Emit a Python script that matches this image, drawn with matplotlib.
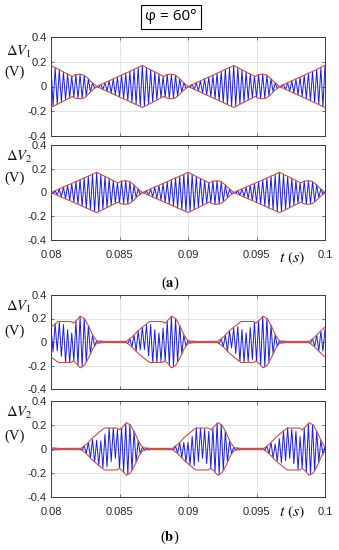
import numpy as np
import matplotlib
matplotlib.use("Agg")
from matplotlib import pyplot as plt

# --- data -------------------------------------------------------------
t_start, t_end = 0.08, 0.1
period = 0.00667          # envelope repeat period (s)
carrier_hz = 3300         # oscillation frequency of the blue trace

# (a) envelope of one period, measured from a zero of the envelope
env_a_phase = [0.0, 0.0017, 0.00333, 0.0042, 0.0049, 0.0051, 0.0054, 0.0057, 0.0060, 0.0062, 0.00667]
env_a_amp = [0.0, 0.085, 0.17, 0.12, 0.08, 0.095, 0.10, 0.095, 0.07, 0.045, 0.0]
zero_a_v1 = 0.08333
zero_a_v2 = 0.08

# (b) envelope of one pulse, measured from the pulse start
env_b_phase = [0.0, 0.0004, 0.0008, 0.0012, 0.0017, 0.0026, 0.0028, 0.0030, 0.0033, 0.0036, 0.0039, 0.0042, 0.0045, 0.0050, 0.00667]
env_b_amp = [0.005, 0.04, 0.09, 0.13, 0.175, 0.175, 0.16, 0.18, 0.22, 0.20, 0.14, 0.06, 0.01, 0.005, 0.005]
start_b_v1 = 0.0855
start_b_v2 = 0.0822
# relative swing of successive half-cycles in the plateau of each pulse
depth_b = [1.0, 0.6, 1.0, 0.45, 0.95, 0.7, 0.85]
plateau_end_b = 0.0028

y_ticks = [-0.4, -0.2, 0, 0.2, 0.4]
y_tick_labels = ["-0.4", "-0.2", "0", "0.2", "0.4"]
x_ticks = [0.08, 0.085, 0.09, 0.095, 0.1]
x_tick_labels = ["0.08", "0.085", "0.09", "0.095", "0.1"]

plt.rcParams["mathtext.fontset"] = "stix"
plt.rcParams["font.family"] = ["Liberation Sans", "DejaVu Sans"]

BLUE = "#1c1ce6"
RED = "#c0524a"
GRID = "#e3e3e3"
FRAME = "#3a3a3a"


def envelope(t, t0, phase, amp):
    ph = np.mod(t - t0, period)
    return np.interp(ph, phase, amp)


def zigzag(t0, phase, amp, depth=None):
    half = 0.5 / carrier_hz
    tk = np.arange(t_start, t_end + half, half)
    tk = tk[tk <= t_end + 1e-12]
    env = envelope(tk, t0, phase, amp)
    sign = np.where(np.arange(len(tk)) % 2 == 0, 1.0, -1.0)
    ratio = np.ones_like(tk)
    if depth is not None:
        ph = np.mod(tk - t0, period)
        idx = np.arange(len(tk)) % len(depth)
        inner = (ph > 0.0008) & (ph < plateau_end_b)
        ratio[inner] = np.array(depth)[idx[inner]]
    return tk, sign * env * ratio


def draw(ax, t0, phase, amp, depth=None, show_x=False):
    tk, yk = zigzag(t0, phase, amp, depth)
    ax.plot(tk, yk, color=BLUE, lw=0.7, zorder=3)
    tt = np.linspace(t_start, t_end, 4000)
    env = envelope(tt, t0, phase, amp)
    ax.plot(tt, env, color=RED, lw=0.8, zorder=4)
    ax.plot(tt, -env, color=RED, lw=0.8, zorder=4)

    ax.set_xlim(t_start, t_end)
    ax.set_ylim(-0.4, 0.4)
    ax.set_yticks(y_ticks)
    ax.set_yticklabels(y_tick_labels)
    ax.set_xticks(x_ticks)
    if show_x:
        ax.set_xticklabels(x_tick_labels)
    else:
        ax.set_xticklabels([])
    ax.grid(True, color=GRID, lw=0.7, zorder=0)
    ax.tick_params(direction="in", length=2.5, width=0.5, colors=FRAME,
                   labelsize=8, labelcolor="#262626", pad=3,
                   top=True, right=True)
    ax.tick_params(axis="x", pad=7)
    for s in ax.spines.values():
        s.set_color(FRAME)
        s.set_linewidth(0.7)


fig = plt.figure(figsize=(3.39, 5.5), dpi=100)
fig.patch.set_facecolor("white")

W, H = 339, 550


def ax_at(top, bottom):
    return fig.add_axes([51 / W, 1 - bottom / H, 274 / W, (bottom - top) / H])


ax1 = ax_at(37, 136)
ax2 = ax_at(145, 240)
ax3 = ax_at(295, 389)
ax4 = ax_at(401, 497)

draw(ax1, zero_a_v1, env_a_phase, env_a_amp)
draw(ax2, zero_a_v2, env_a_phase, env_a_amp, show_x=True)
draw(ax3, start_b_v1, env_b_phase, env_b_amp, depth=depth_b)
draw(ax4, start_b_v2, env_b_phase, env_b_amp, depth=depth_b, show_x=True)

# y labels
serif = ["Liberation Serif", "DejaVu Serif"]
for (yl, yv, sub) in [(52, 72, "1"), (157, 178, "2"), (307, 331, "1"), (413, 436, "2")]:
    fig.text(19 / W, 1 - yl / H, r"$\Delta V_{%s}$" % sub, ha="center", va="center",
             fontsize=10.5, color="#111111")
    fig.text(15 / W, 1 - yv / H, "(V)", ha="center", va="center",
             fontsize=10.5, family=serif, color="#111111")

# time axis labels
for y in (258, 512):
    fig.text(292 / W, 1 - y / H, r"$t\ (s)$", ha="center", va="center",
             fontsize=11.5, color="#111111")

# panel letters
fig.text(170 / W, 1 - 283 / H, r"($\mathbf{a}$)", ha="center", va="center",
         fontsize=10.5, family=serif)
fig.text(170 / W, 1 - 537 / H, r"($\mathbf{b}$)", ha="center", va="center",
         fontsize=10.5, family=serif)

# title box
fig.text(171 / W, 1 - 17 / H, "\u03c6 = 60\u00b0", ha="center", va="center",
         fontsize=11, family=["Open Sans", "DejaVu Sans"],
         bbox=dict(boxstyle="square,pad=0.3", facecolor="white",
                   edgecolor="black", linewidth=0.8))

fig.savefig("out.png", dpi=100)
